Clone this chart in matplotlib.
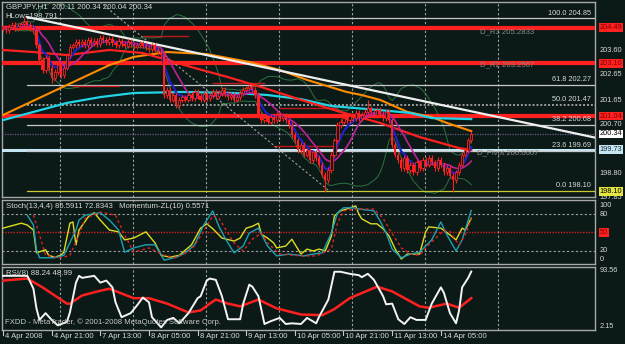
import matplotlib
matplotlib.use("Agg")
import matplotlib.pyplot as plt
import matplotlib.transforms as mtransforms
import numpy as np
import pandas as pd

plt.rcParams['font.family'] = ['Liberation Sans', 'DejaVu Sans']

# GBPJPY H1 closes, 4 Apr 05:00 .. 14 Apr ~15:00
closes = [204.48, 204.40, 204.52, 204.60, 204.48, 204.56, 204.63, 204.71, 204.60, 204.48,
          204.40, 203.81, 203.23, 202.84, 203.31, 202.92, 202.53, 202.76, 203.03, 202.64,
          202.92, 203.42, 203.74, 203.81, 203.93, 203.85, 203.93, 203.81, 204.01, 203.89,
          203.97, 203.85, 204.09, 204.01, 203.93, 204.05, 203.89, 203.81, 203.97, 203.85,
          203.78, 203.93, 203.85, 203.74, 203.81, 203.89, 203.78, 203.70, 203.66, 203.81,
          203.62, 203.54, 203.42, 201.86, 202.06, 201.67, 201.86, 201.47, 201.67, 201.78,
          201.67, 201.86, 201.74, 201.98, 201.82, 201.67, 201.90, 201.74, 201.86, 201.98,
          201.82, 201.94, 202.06, 201.90, 201.78, 201.86, 201.67, 201.78, 201.94, 202.06,
          202.13, 202.21, 202.06, 201.86, 201.08, 200.88, 200.96, 200.81, 201.00, 200.88,
          201.08, 200.96, 201.04, 200.88, 200.69, 200.30, 200.10, 199.71, 199.91, 199.52,
          199.71, 199.32, 199.63, 199.40, 199.13, 198.74, 198.54, 198.93, 199.52, 200.10,
          200.69, 200.81, 200.96, 200.88, 201.04, 200.96, 201.16, 200.96, 201.08, 201.20,
          201.35, 201.20, 201.08, 201.28, 201.12, 200.96, 201.20, 200.88, 199.91, 199.52,
          199.32, 199.01, 199.40, 198.93, 199.13, 198.85, 199.24, 199.01, 199.32, 199.13,
          199.40, 199.24, 199.01, 199.32, 199.13, 198.85, 199.01, 198.70, 198.54, 198.85,
          199.13, 199.52, 199.71, 200.10, 200.34]
# a few extreme wicks {bar: price}
highs_x = {7: 204.91, 32: 204.22, 81: 202.33, 120: 201.66}
lows_x = {16: 202.33, 106: 198.07, 148: 198.09}

# moving averages that start before the visible window (bar, price)
orange_ma = [(0, 201.08), (21, 202.25), (35, 203.03), (43, 203.35), (54, 203.54), (67, 203.46),
             (81, 203.15), (91, 202.84), (100, 202.45), (113, 201.98), (118, 201.86),
             (124, 201.67), (133, 201.20), (141, 201.00), (146, 200.77), (154, 200.45)]
cyan_ma = [(0, 200.88), (10, 201.20), (21, 201.55), (32, 201.78), (43, 201.94), (59, 201.98),
           (76, 201.94), (87, 201.86), (98, 201.70), (108, 201.43), (124, 201.27),
           (134, 201.16), (141, 200.96), (154, 200.92)]
red_ma = [(0, 203.62), (10, 203.54), (21, 203.42), (35, 203.62), (46, 203.50), (54, 203.23),
          (62, 202.95), (74, 202.56), (85, 202.17), (98, 201.67), (111, 201.20),
          (124, 200.77), (137, 200.22), (150, 199.79), (154, 199.71)]

pivot_lines = [204.49, 203.10, 201.04]
fib_levels = [(100.0, 204.85), (61.8, 202.27), (50.0, 201.47), (38.2, 200.68), (23.6, 199.69), (0.0, 198.10)]
short_segs = [(23, 38, 202.21), (46, 61, 204.17), (69, 86, 202.33), (91, 110, 201.35), (89, 110, 199.87)]
price_ticks = ["203.60", "202.65", "201.65", "200.70", "198.80", "197.85"]

# stochastic panel (bar, value)
mom_yellow = [(0, 57), (6, 65), (8, 62), (10, 54), (11, 17), (14, 22), (15, 13), (17, 10), (19, 13),
              (20, 18), (22, 65), (23, 67), (24, 30), (25, 54), (28, 75), (30, 82), (32, 70),
              (35, 54), (38, 51), (40, 38), (43, 41), (47, 51), (50, 33), (52, 13), (55, 10),
              (58, 13), (62, 30), (65, 57), (67, 64), (69, 56), (72, 41), (76, 36), (78, 41),
              (80, 57), (82, 60), (84, 65), (85, 47), (87, 41), (89, 33), (90, 25), (93, 28),
              (95, 39), (98, 15), (100, 23), (102, 20), (104, 23), (106, 20), (108, 44),
              (109, 77), (111, 85), (113, 88), (116, 93), (117, 80), (118, 72), (121, 64),
              (123, 64), (125, 56), (127, 44), (129, 23), (131, 7), (133, 15), (137, 15),
              (139, 51), (140, 59), (144, 57), (147, 46), (149, 38), (151, 57), (152, 54), (154, 73)]
stoch_main = [(8, 78), (10, 62), (11, 22), (12, 9), (17, 9), (20, 13), (24, 54), (25, 70), (27, 78),
              (32, 82), (35, 70), (38, 54), (40, 18), (43, 25), (47, 30), (50, 30), (53, 5),
              (57, 10), (60, 17), (63, 30), (66, 62), (69, 85), (71, 60), (73, 41), (76, 17),
              (79, 28), (81, 49), (84, 57), (87, 28), (90, 12), (94, 15), (99, 12), (102, 15),
              (105, 17), (108, 49), (110, 82), (112, 90), (115, 90), (117, 88), (122, 85),
              (124, 69), (126, 49), (128, 23), (131, 9), (134, 15), (137, 18), (141, 38),
              (144, 67), (146, 46), (149, 20), (151, 38), (153, 70), (154, 85.59)]
stoch_sig = [(10, 78), (12, 46), (14, 13), (19, 9), (22, 13), (25, 46), (27, 73), (32, 83), (37, 78),
             (40, 46), (43, 18), (48, 25), (53, 13), (57, 9), (62, 22), (65, 44), (69, 77),
             (71, 73), (73, 57), (76, 33), (79, 20), (82, 39), (85, 49), (87, 33), (91, 15),
             (98, 12), (103, 12), (108, 23), (110, 65), (112, 85), (116, 88), (122, 88),
             (125, 73), (127, 56), (131, 25), (134, 15), (137, 13), (140, 30), (145, 54),
             (147, 51), (150, 30), (152, 46), (154, 72.83)]

# RSI panel (bar, value)
rsi = [(0, 82), (8, 82), (10, 63), (11, 34), (12, 17), (14, 27), (16, 17), (18, 9), (21, 14),
       (22, 28), (24, 72), (25, 82), (26, 79), (30, 82), (32, 72), (34, 75), (36, 65), (37, 43),
       (39, 21), (42, 27), (44, 38), (46, 50), (48, 43), (49, 21), (52, 6), (54, 17), (56, 20),
       (58, 12), (61, 27), (64, 49), (65, 52), (67, 75), (68, 78), (70, 76), (72, 52), (74, 18),
       (78, 18), (79, 41), (81, 69), (82, 66), (84, 52), (86, 11), (88, 15), (91, 20), (93, 11),
       (95, 12), (98, 11), (100, 20), (103, 12), (104, 22), (107, 47), (109, 88), (111, 88),
       (114, 85), (117, 83), (118, 80), (120, 85), (122, 76), (125, 52), (126, 40), (128, 41),
       (130, 18), (132, 11), (134, 21), (136, 17), (139, 17), (141, 41), (144, 65), (145, 57),
       (147, 27), (149, 12), (150, 31), (151, 65), (153, 79), (154, 88.24)]
rsi_ma = [(0, 75), (8, 78), (13, 65), (21, 41), (22, 41), (26, 53), (32, 60), (35, 63), (39, 56),
          (43, 49), (48, 49), (54, 41), (61, 28), (65, 31), (68, 41), (70, 47), (74, 41),
          (78, 37), (84, 47), (90, 34), (98, 25), (105, 24), (109, 33), (114, 49), (123, 66),
          (128, 59), (137, 37), (140, 35), (146, 41), (150, 35), (154, 48.99)]

date_labels = ["4 Apr 2008", "4 Apr 21:00", "7 Apr 13:00", "8 Apr 05:00", "8 Apr 21:00",
               "9 Apr 13:00", "10 Apr 05:00", "10 Apr 21:00", "11 Apr 13:00", "14 Apr 05:00"]
date_bars = [0, 16, 32, 48, 64, 80, 96, 112, 128, 144]

BG = "#0b1a17"
TXT = "#d8d8d8"
FS = 5.3
W, H = 625, 344
fig = plt.figure(figsize=(6.25, 3.44), dpi=100, facecolor=BG)

def px_axes(top, bottom):
    return fig.add_axes([2 / W, 1 - bottom / H, 593 / W, (bottom - top) / H])

ax = px_axes(2, 197)
axs = px_axes(200, 264)
axr = px_axes(267, 330)
XL = (-0.33, 194.7)
for a in (ax, axs, axr):
    a.set_facecolor(BG)
    a.set_xlim(*XL)
    a.set_xticks([])
    a.set_yticks([])
    for s in a.spines.values():
        s.set_color("#a8a8a8")
        s.set_linewidth(1.0)
    for g in [18.75 + 24 * k for k in range(7)]:
        a.axvline(g, color="#a0a0a0", lw=0.8, ls=(0, (2, 2)), zorder=1)

ax.set_ylim(197.877, 205.494)
axs.set_ylim(-1.1, 102.6)
axr.set_ylim(2.15, 95.0)

c = np.array(closes)
n = len(c)
idx = np.arange(n)
o = np.r_[c[0], c[:-1]]
hi = np.maximum(o, c) + 0.1
lo = np.minimum(o, c) - 0.1
for k, v in highs_x.items():
    hi[k] = v
for k, v in lows_x.items():
    lo[k] = v

s = pd.Series(c)
ma_mid = s.rolling(20, min_periods=5).mean()
sd = s.rolling(20, min_periods=5).std(ddof=0)
ax.plot(idx, ma_mid + 2 * sd, color="#2e7040", lw=0.7, zorder=2)
ax.plot(idx, ma_mid - 2 * sd, color="#2e7040", lw=0.7, zorder=2)

# horizontal levels
for p in pivot_lines:
    ax.axhline(p, color="#ff2020", lw=3.0, zorder=3)
ax.axhline(199.73, color="#c4e6f2", lw=2.2, zorder=3)
ax.axhline(200.34, color="#6a5a8a", lw=0.9, ls=(0, (1, 1)), zorder=3)
for lvl, p in fib_levels:
    col = "#c8c832" if lvl == 0.0 else ("#9a9a9a" if lvl == 50.0 else "#c8c8c8")
    ls = (0, (1, 1)) if lvl == 50.0 else "-"
    lw = 1.4 if lvl == 50.0 else 0.9
    ax.plot([8, XL[1]], [p, p], color=col, lw=lw, ls=ls, zorder=3)
    ax.text(193.5, p + 0.07, f"{lvl:.1f} {p:.2f}", color=TXT, fontsize=FS, ha="right", va="bottom", zorder=8)
for x0, x1, p in short_segs:
    ax.plot([x0, x1], [p, p], color="#c01818", lw=1.0, zorder=3)

ax.plot([7.9, 195.4], [204.91, 200.18], color="#eeeeee", lw=1.6, zorder=6)
ax.plot([31.9, 106.9], [205.49, 198.15], color="#a0a0a0", lw=0.8, ls=(0, (2, 2)), zorder=4)

def draw_nodes(a, nodes, **kw):
    xs, ys = zip(*nodes)
    a.plot(xs, ys, **kw)

draw_nodes(ax, orange_ma, color="#ff8c00", lw=1.5, zorder=5)
draw_nodes(ax, cyan_ma, color="#22d4e6", lw=1.6, zorder=5)
draw_nodes(ax, red_ma, color="#ff2020", lw=1.6, zorder=5)
ax.plot(idx, s.rolling(10, min_periods=1).mean(), color="#c0209a", lw=1.2, zorder=5)
ax.plot(idx, s.ewm(span=5).mean(), color="#2020c8", lw=1.6, zorder=5)

# candles
up = c >= o
ax.vlines(idx, lo, hi, color="#ff2020", lw=0.8, zorder=6)
body = np.where(np.abs(c - o) < 0.03, 0.03, c - o)
ax.bar(idx[~up], body[~up], bottom=o[~up], width=0.75, color="#ff2020", zorder=7)
ax.bar(idx[up], body[up], bottom=o[up], width=0.75, color=BG, edgecolor="#ff2020", lw=0.6, zorder=7)

ax.text(0.006, 0.995, "GBPJPY,H1  200.11 200.34 200.04 200.34", transform=ax.transAxes,
        color=TXT, fontsize=FS + 0.3, va="top", zorder=9)
ax.text(0.006, 0.945, "HLow=198.791", transform=ax.transAxes, color=TXT, fontsize=FS + 0.3, va="top", zorder=9)
for x, p, t in [(157, 204.35, "D_R3 205.2833"), (157, 203.05, "D_R2 203.2567"), (156, 199.60, "D_Pivot 200.0667")]:
    ax.text(x, p, t, color="#8a8a8a", fontsize=FS + 0.3, va="center", zorder=8)

# right price scale
tr = mtransforms.blended_transform_factory(ax.transAxes, ax.transData)
for t in price_ticks:
    ax.text(1.008, float(t), t, transform=tr, color=TXT, fontsize=FS, va="center", clip_on=False)
for p, fc, tc in [(204.49, "#ff2020", "#800000"), (203.10, "#ff2020", "#800000"), (201.04, "#ff2020", "#800000"),
                  (200.34, "#ffffff", "#000000"), (199.73, "#c4e6f2", "#203040"), (198.10, "#e6e640", "#000000")]:
    ax.text(1.008, p, f"{p:.2f}", transform=tr, color=tc, fontsize=FS, va="center", clip_on=False,
            bbox=dict(boxstyle="square,pad=0.12", fc=fc, ec="none"))

# stochastic
for lv in (20, 80):
    axs.axhline(lv, color="#a0a0a0", lw=0.8, ls=(0, (2, 2)))
axs.axhline(50, color="#d02020", lw=1.0, ls=(0, (1, 1)))
draw_nodes(axs, mom_yellow, color="#dcdc20", lw=1.0, zorder=4)
draw_nodes(axs, stoch_main, color="#1ea0b4", lw=1.0, zorder=4)
draw_nodes(axs, stoch_sig, color="#e02020", lw=1.0, ls=(0, (2, 2)), zorder=4)
axs.text(0.006, 0.96, "Stoch(13,4,4) 85.5911 72.8343   Momentum-ZL(10) 0.5571", transform=axs.transAxes,
         color=TXT, fontsize=FS + 0.3, va="top", zorder=9)
trs = mtransforms.blended_transform_factory(axs.transAxes, axs.transData)
for v, yv in [("100", 93), ("80", 79), ("20", 20), ("0", 6)]:
    axs.text(1.008, yv, v, transform=trs, color=TXT, fontsize=FS, va="center", clip_on=False)
axs.text(1.008, 50, "50", transform=trs, color="#800000", fontsize=FS, va="center", clip_on=False,
         bbox=dict(boxstyle="square,pad=0.1", fc="#ff2020", ec="none"))

# RSI
draw_nodes(axr, rsi_ma, color="#ff2020", lw=1.8, zorder=4)
draw_nodes(axr, rsi, color="#f4f4f4", lw=1.4, zorder=5)
axr.text(0.006, 0.96, "RSI(8) 88.24 48.99", transform=axr.transAxes, color=TXT, fontsize=FS + 0.3, va="top", zorder=9)
axr.text(0.005, 0.06, "FXDD - MetaTrader, \u00a9 2001-2008 MetaQuotes Software Corp.", transform=axr.transAxes,
         color="#c8c8c8", fontsize=FS + 0.3, va="bottom", zorder=9)
trr = mtransforms.blended_transform_factory(axr.transAxes, axr.transData)
axr.text(1.008, 89.5, "93.56", transform=trr, color=TXT, fontsize=FS, va="center", clip_on=False)
axr.text(1.008, 7.5, "2.15", transform=trr, color=TXT, fontsize=FS, va="center", clip_on=False)

# time axis
for b, lab in zip(date_bars, date_labels):
    xp = 3 + 3.04 * b
    fig.add_artist(plt.Line2D([xp / W, xp / W], [1 - 335 / H, 1 - 331 / H], color="#c8c8c8", lw=0.8))
    fig.text((xp + 2) / W, 1 - 337 / H, lab, color=TXT, fontsize=FS + 0.3, va="center")

fig.savefig("out.png", dpi=100, facecolor=BG)
